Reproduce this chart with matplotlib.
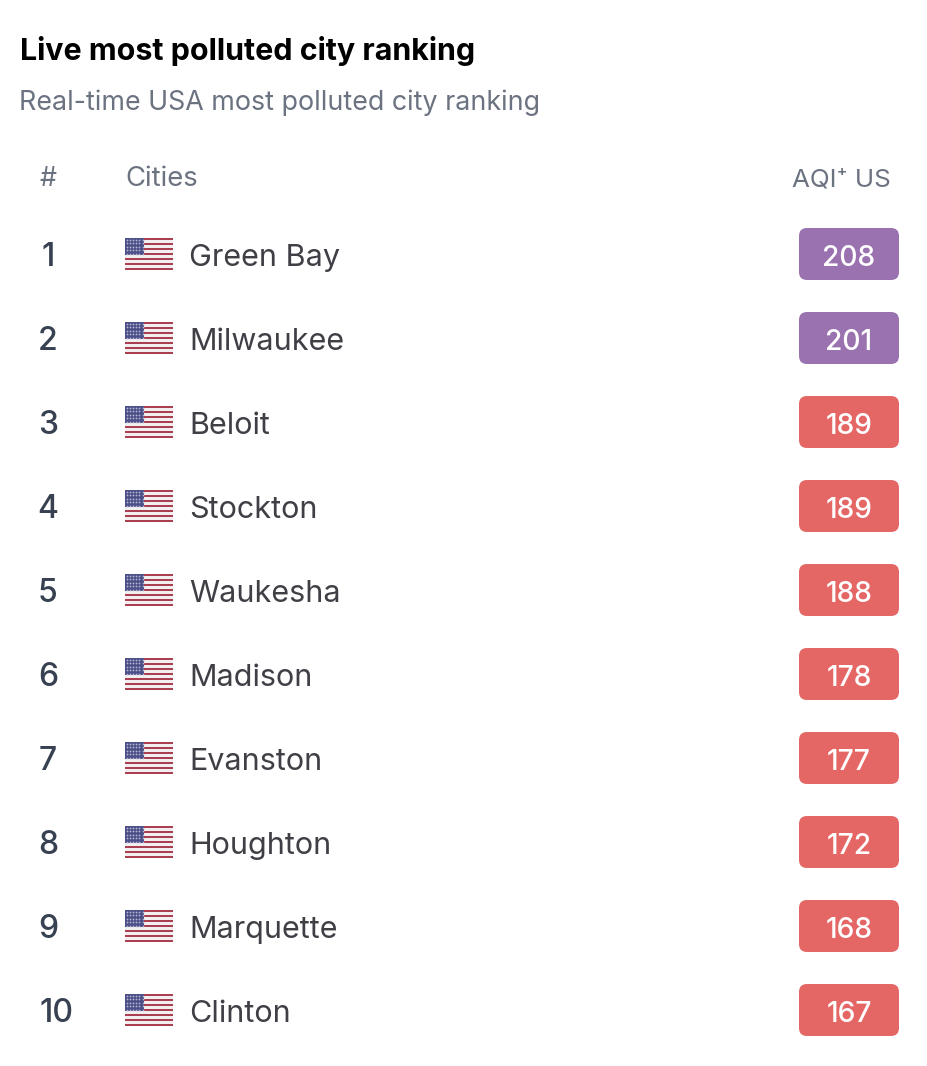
import numpy as np
import matplotlib
matplotlib.use('Agg')
import matplotlib.pyplot as plt
from matplotlib.patches import FancyBboxPatch, Rectangle

plt.rcParams['font.family'] = ['Inter', 'DejaVu Sans']

# data
ranks = [1, 2, 3, 4, 5, 6, 7, 8, 9, 10]
cities = ['Green Bay', 'Milwaukee', 'Beloit', 'Stockton', 'Waukesha',
          'Madison', 'Evanston', 'Houghton', 'Marquette', 'Clinton']
aqi = [208, 201, 189, 189, 188, 178, 177, 172, 168, 167]

PURPLE = '#9a72b0'
RED = '#e56765'
GREY = '#6b7280'
DARK = '#3f3f46'
NAVY = '#374151'


def aqi_color(v):
    return PURPLE if v > 200 else RED


def draw_flag(ax, x, y, w=48, h=32):
    # stripes
    ax.add_patch(Rectangle((x, y), w, h, fc='#f3eef0', ec='none', zorder=2))
    sh = h / 13
    for i in range(0, 13, 2):
        ax.add_patch(Rectangle((x, y + i * sh), w, sh, fc='#a8404f', ec='none', zorder=3))
    # canton
    cw, ch = w * 0.40, sh * 7
    ax.add_patch(Rectangle((x, y), cw, ch, fc='#4d5088', ec='none', zorder=4))
    xs, ys = [], []
    for r in range(5):
        for c in range(6):
            xs.append(x + (c + 0.5) * cw / 6)
            ys.append(y + (r + 0.5) * ch / 5)
    ax.scatter(xs, ys, s=1.6, c='#b4b6d2', linewidths=0, zorder=5)


fig = plt.figure(figsize=(9.28, 10.66), dpi=100)
ax = fig.add_axes([0, 0, 1, 1])
ax.set_xlim(0, 928)
ax.set_ylim(1066, 0)
ax.axis('off')

# 标题
ax.text(20, 51, 'Live most polluted city ranking', fontsize=21.9, fontweight='bold',
        color='black', va='center', ha='left')
ax.text(19.5, 102.5, 'Real-time USA most polluted city ranking', fontsize=19.3,
        color=GREY, va='center', ha='left')

# 表头
ax.text(48, 179.5, '#', fontsize=19.3, color=GREY, va='center', ha='center')
ax.text(125, 179.5, 'Cities', fontsize=19.8, color=GREY, va='center', ha='left')
ax.text(891, 179.5, 'AQI\u207a US', fontsize=18.7, color=GREY, va='center', ha='right')

# 每一行
for i, (rank, city, val) in enumerate(zip(ranks, cities, aqi)):
    yc = 254 + i * 84
    ax.text(48 if rank < 10 else 57, yc + 3, str(rank), fontsize=23, fontweight='medium',
            color=NAVY, va='center', ha='center')
    draw_flag(ax, 125, yc - 16)
    ax.text(189, yc + 4, city, fontsize=22, color=DARK, va='center', ha='left')
    ax.add_patch(FancyBboxPatch((799 + 8, yc - 26 + 8), 100 - 16, 52 - 16,
                                boxstyle='round,pad=8,rounding_size=8',
                                fc=aqi_color(val), ec='none', zorder=2))
    ax.text(849, yc + 4, str(val), fontsize=20.3, fontweight='medium', color='white',
            va='center', ha='center', zorder=3)

fig.savefig('out.png', dpi=100)
